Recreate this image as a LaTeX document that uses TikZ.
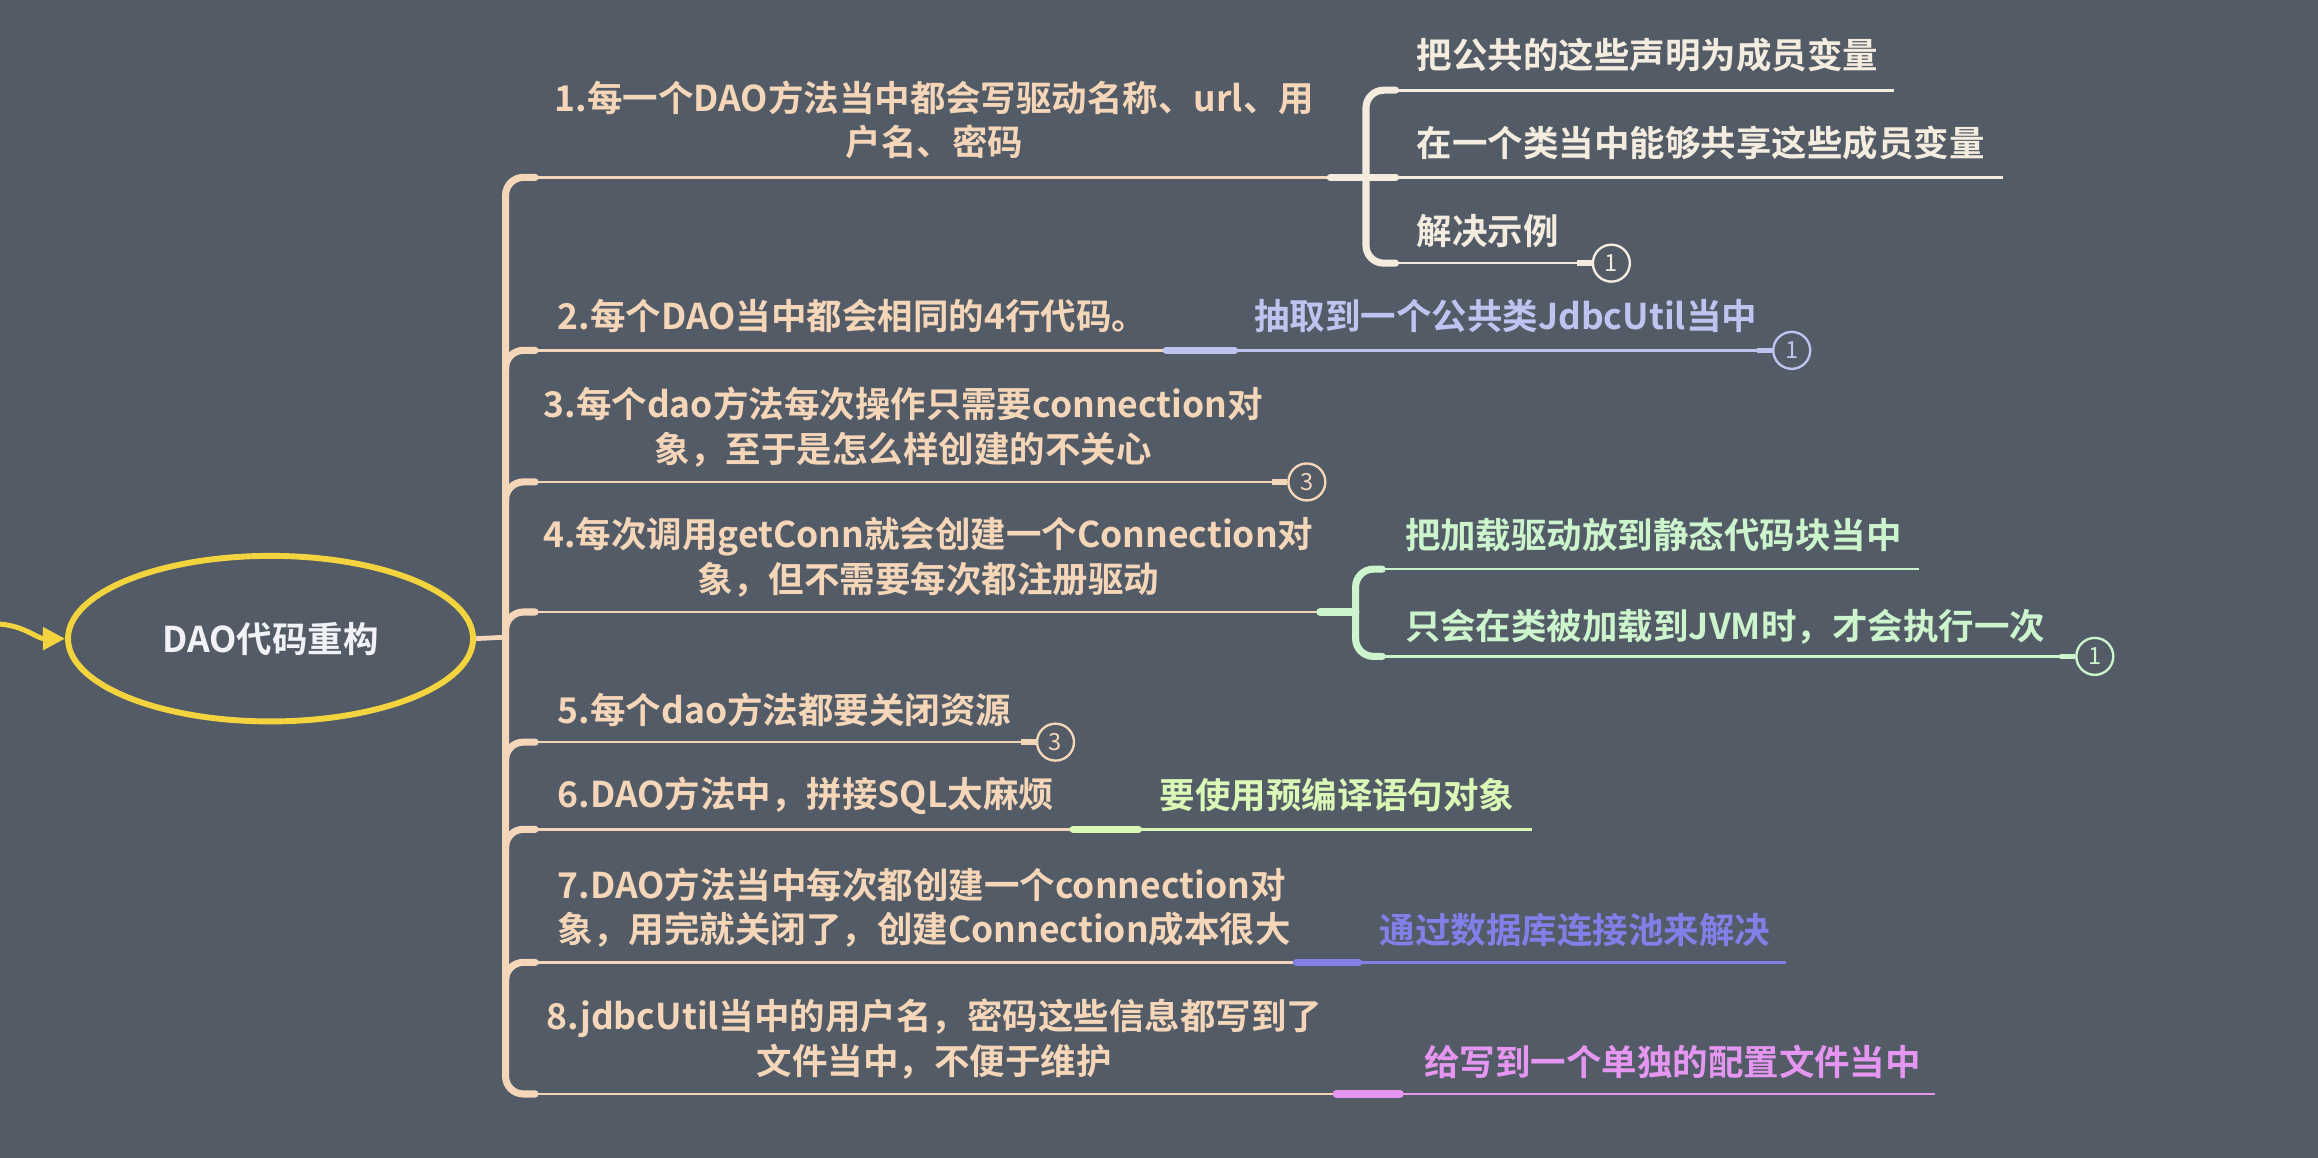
\documentclass[tikz,border=0pt]{standalone}
\usepackage{fontspec}
\setmainfont{Noto Sans CJK SC}[BoldFont={* Bold}]
\usetikzlibrary{arrows.meta,shapes.geometric}
\definecolor{bg}{RGB}{82,91,102}
\definecolor{peach}{RGB}{245,214,185}
\definecolor{cream}{RGB}{245,236,224}
\definecolor{lav}{RGB}{190,196,240}
\definecolor{mint}{RGB}{205,245,205}
\definecolor{lime}{RGB}{218,248,182}
\definecolor{bluev}{RGB}{128,128,232}
\definecolor{pinkv}{RGB}{228,150,240}
\definecolor{yel}{RGB}{244,212,62}
\definecolor{whitish}{RGB}{240,242,246}
\begin{document}
\begin{tikzpicture}[x=0.5pt,y=-0.5pt,
  txt/.style={font=\fontsize{12}{15}\selectfont\bfseries, inner sep=0pt, align=center},
  trunkline/.style={line width=2.4pt, line cap=round, rounded corners=6pt},
  thinline/.style={line width=0.9pt},
  stubline/.style={line width=2.6pt, line cap=round},
  prestub/.style={line width=1.8pt},
  badge/.style={circle, draw, line width=0.8pt, fill=bg, minimum size=12.5pt, inner sep=0pt, font=\fontsize{8}{8}\selectfont}]
\fill[bg] (0,0) rectangle (1568,783);
\useasboundingbox (0,0) rectangle (1568,783);

% root
\node[ellipse, draw=yel, line width=2pt, minimum width=137pt, minimum height=56pt, inner sep=0pt,
      txt, text=whitish] (root) at (183,432) {DAO代码重构};
\coordinate (in) at (-4,422);
\draw[yel, line width=1.7pt, -{Triangle[length=7.5pt,width=7.5pt]}] (in) to[out=0,in=180] (root.west);

% trunk
\coordinate (J) at (342,431);
\draw[peach, line width=1.6pt] (root.east) -- (J);
\draw[peach, trunkline] (362,120) -- (342,120) -- (342,740) -- (362,740);
\foreach \y in {237,326,414,502,561,651}
  \draw[peach, trunkline] (342,\y+14) -- (342,\y) -- (362,\y);

% item texts
\node[txt, text=peach] (t1) at (632,81) {1.每一个DAO方法当中都会写驱动名称、url、用\\户名、密码};
\node[txt, text=peach, anchor=west] (t2) at (377,214) {2.每个DAO当中都会相同的4行代码。};
\node[txt, text=peach] (t3) at (611,289) {3.每个dao方法每次操作只需要connection对\\象，至于是怎么样创建的不关心};
\node[txt, text=peach] (t4) at (628,377) {4.每次调用getConn就会创建一个Connection对\\象，但不需要每次都注册驱动};
\node[txt, text=peach, anchor=west] (t5) at (377,480) {5.每个dao方法都要关闭资源};
\node[txt, text=peach, anchor=west] (t6) at (377,538) {6.DAO方法中，拼接SQL太麻烦};
\node[txt, text=peach, anchor=west, align=left] (t7) at (377,614) {7.DAO方法当中每次都创建一个connection对\\象，用完就关闭了，创建Connection成本很大};
\node[txt, text=peach] (t8) at (632,703) {8.jdbcUtil当中的用户名，密码这些信息都写到了\\文件当中，不便于维护};

% sub texts
\node[txt, text=cream, anchor=west] (s1a) at (958,37) {把公共的这些声明为成员变量};
\node[txt, text=cream, anchor=west] (s1b) at (958,97) {在一个类当中能够共享这些成员变量};
\node[txt, text=cream, anchor=west] (s1c) at (958,156) {解决示例};
\node[txt, text=lav, anchor=west] (s2) at (848,214) {抽取到一个公共类JdbcUtil当中};
\node[txt, text=mint, anchor=west] (s4a) at (950,362) {把加载驱动放到静态代码块当中};
\node[txt, text=mint, anchor=west] (s4b) at (950,424) {只会在类被加载到JVM时，才会执行一次};
\node[txt, text=lime, anchor=west] (s6) at (784,538) {要使用预编译语句对象};
\node[txt, text=bluev, anchor=west] (s7) at (933,629) {通过数据库连接池来解决};
\node[txt, text=pinkv, anchor=west] (s8) at (963,718) {给写到一个单独的配置文件当中};

% badges
\node[badge, draw=cream, text=cream] (c1) at (1090,178) {1};
\node[badge, draw=lav, text=lav] (c2) at (1212,237) {1};
\node[badge, draw=peach, text=peach] (c3) at (884,326) {3};
\node[badge, draw=mint, text=mint] (c4) at (1417,444) {1};
\node[badge, draw=peach, text=peach] (c5) at (714,502) {3};

% named coordinates
\coordinate (b1) at (360,120); \coordinate (e1) at (900,120); \coordinate (k1) at (924,120);
\coordinate (b2) at (360,237); \coordinate (e2) at (789,237); \coordinate (f2) at (835,237);
\coordinate (b3) at (360,326);
\coordinate (b4) at (360,414); \coordinate (e4) at (893,414); \coordinate (k4) at (917,414);
\coordinate (b5) at (360,502);
\coordinate (b6) at (360,561); \coordinate (e6) at (726,561); \coordinate (f6) at (770,561); \coordinate (g6) at (1036,561);
\coordinate (b7) at (360,651); \coordinate (e7) at (877,651); \coordinate (f7) at (919,651); \coordinate (g7) at (1208,651);
\coordinate (b8) at (360,740); \coordinate (e8) at (904,740); \coordinate (f8) at (947,740); \coordinate (g8) at (1309,740);

% item 1
\draw[peach, thinline] (b1) -- (e1);
\draw[cream, stubline] (e1) -- (k1);
\draw[cream, trunkline] (944,61) -- (924,61) -- (924,178) -- (944,178);
\draw[cream, stubline] (k1) -- (944,120);
\draw[cream, thinline] (940,61) -- (1281,61);
\draw[cream, thinline] (940,120) -- (1355,120);
\draw[cream, thinline] (940,178) -- (c1.west);
\draw[cream, prestub] ([xshift=-5pt]c1.west) -- (c1.west);

% item 2
\draw[peach, thinline] (b2) -- (e2);
\draw[lav, stubline] (e2) -- (f2);
\draw[lav, thinline] (f2) -- (c2.west);
\draw[lav, prestub] ([xshift=-5pt]c2.west) -- (c2.west);

% item 3
\draw[peach, thinline] (b3) -- (c3.west);
\draw[peach, prestub] ([xshift=-5pt]c3.west) -- (c3.west);

% item 4
\draw[peach, thinline] (b4) -- (e4);
\draw[mint, stubline] (e4) -- (k4);
\draw[mint, trunkline] (935,385) -- (917,385) -- (917,444) -- (935,444);
\draw[mint, thinline] (930,385) -- (1298,385);
\draw[mint, thinline] (930,444) -- (c4.west);
\draw[mint, prestub] ([xshift=-5pt]c4.west) -- (c4.west);

% item 5
\draw[peach, thinline] (b5) -- (c5.west);
\draw[peach, prestub] ([xshift=-5pt]c5.west) -- (c5.west);

% item 6
\draw[peach, thinline] (b6) -- (e6);
\draw[lime, stubline] (e6) -- (f6);
\draw[lime, thinline] (f6) -- (g6);

% item 7
\draw[peach, thinline] (b7) -- (e7);
\draw[bluev, stubline] (e7) -- (f7);
\draw[bluev, thinline] (f7) -- (g7);

% item 8
\draw[peach, thinline] (b8) -- (e8);
\draw[pinkv, stubline] (e8) -- (f8);
\draw[pinkv, thinline] (f8) -- (g8);
\end{tikzpicture}
\end{document}
